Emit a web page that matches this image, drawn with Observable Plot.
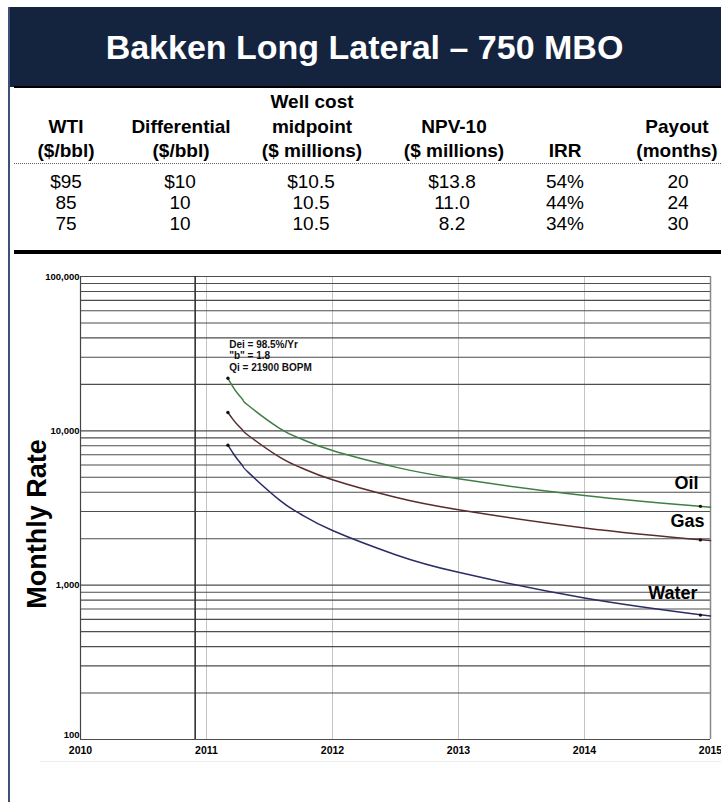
<!DOCTYPE html>
<html><head><meta charset="utf-8">
<script src="https://cdn.jsdelivr.net/npm/d3@7"></script>
<script src="https://cdn.jsdelivr.net/npm/@observablehq/plot@0.6"></script>
<style>
html,body{margin:0;padding:0;background:#fff;}
body{width:721px;height:802px;position:relative;overflow:hidden;font-family:"Liberation Sans",Arial,sans-serif;color:#000;}
#bar{position:absolute;left:8px;top:7px;width:713px;height:80px;background:#14243f;}
#title{position:absolute;left:8px;width:713px;top:7px;height:80px;line-height:80px;text-align:center;color:#fff;font-weight:bold;font-size:34px;}
#lborder{position:absolute;left:8px;top:7px;width:2px;height:795px;background:#3d5078;}
#rule1{position:absolute;left:14px;top:86px;width:707px;height:2px;background:#000;}
#dots{position:absolute;left:14px;top:163px;width:707px;height:0;border-top:1px dotted #666;}
#rule2{position:absolute;left:14px;top:250px;width:707px;height:4px;background:#000;}
#sep{position:absolute;left:40px;top:761px;width:681px;height:1px;background:#ececec;}
.cell{position:absolute;transform:translate(-50%,-50%);white-space:nowrap;font-size:19px;line-height:1;}
.hdr{font-weight:bold;}
#chart{position:absolute;left:0;top:258px;}
</style></head>
<body>
<div id="bar"></div>
<div id="title">Bakken Long Lateral – 750 MBO</div>
<div id="lborder"></div>
<div id="rule1"></div>
<div id="dots"></div>
<div id="rule2"></div>
<div id="sep"></div>
<div id="table"></div>
<div id="chart"></div>
<script>
// ---- table data ----
const headLine1 = ["", "", "Well cost", "", "", ""];
const headLine2 = ["WTI", "Differential", "midpoint", "NPV-10", "", "Payout"];
const headLine3 = ["($/bbl)", "($/bbl)", "($ millions)", "($ millions)", "IRR", "(months)"];
const wti = ["$95", "85", "75"];
const differential = ["$10", "10", "10"];
const wellCost = ["$10.5", "10.5", "10.5"];
const npv10 = ["$13.8", "11.0", "8.2"];
const irr = ["54%", "44%", "34%"];
const payout = ["20", "24", "30"];

// ---- chart data (monthly rate) ----
const years = [2011.17, 2011.21, 2011.25, 2011.29, 2011.33, 2011.58, 2011.75, 2012.0, 2012.5, 2013.0, 2014.0, 2015.0];
const oil   = [21900, 19270, 17330, 15830, 14640, 10380, 8880, 7450, 5820, 4890, 3810, 3200];
const gas   = [13140, 11870, 10860, 10040, 9360, 6750, 5770, 4820, 3710, 3080, 2350, 1945];
const water = [8070, 7180, 6470, 5885, 5400, 3560, 2880, 2260, 1576, 1211, 826, 631];
const dotYears = [2011.17, 2014.92];
const oilDots = [21900, 3240];
const gasDots = [13140, 1965];
const waterDots = [8070, 640];
const seriesNames = ["Oil", "Gas", "Water"];
const seriesColors = ["#3f7f46", "#5a2c2c", "#2c2c66"];
const labelYears = [2014.905, 2014.952, 2014.897];
const labelValues = [4550, 2595, 885];
const xTicks = [2010, 2011, 2012, 2013, 2014, 2015];
const yTicks = [1000, 10000, 100000];
const yBottomTick = [100];
const startMarkerYear = 2010.91;
const annotation = ["Dei = 98.5%/Yr", "\"b\" = 1.8", "Qi = 21900 BOPM"];
const annotationYear = 2011.18;
const annotationValue = 39100;

// ---- build table ----
const colX = [66, 181, 312, 454, 565, 677];
const dataColX = [66, 180, 311, 452, 565, 678];
const tbl = document.getElementById("table");
function cell(txt, x, y, bold) {
  if (!txt) return;
  const d = document.createElement("div");
  d.className = "cell" + (bold ? " hdr" : "");
  d.style.left = x + "px"; d.style.top = y + "px";
  d.textContent = txt; tbl.appendChild(d);
}
headLine1.forEach((t, i) => cell(t, colX[i], 101, true));
headLine2.forEach((t, i) => cell(t, colX[i], 126, true));
headLine3.forEach((t, i) => cell(t, colX[i], 150, true));
const cols = [wti, differential, wellCost, npv10, irr, payout];
const rowY = [181, 202, 223];
cols.forEach((c, i) => c.forEach((t, j) => cell(t, dataColX[i], rowY[j], false)));

// ---- chart ----
const rows = [];
[oil, gas, water].forEach((s, k) => s.forEach((v, i) => rows.push({series: seriesNames[k], year: years[i], value: v})));
const dots = [];
[oilDots, gasDots, waterDots].forEach((s, k) => s.forEach((v, i) => dots.push({series: seriesNames[k], year: dotYears[i], value: v})));
const labels = seriesNames.map((n, i) => ({name: n, year: labelYears[i], value: labelValues[i]}));
const gridValues = d3.scaleLog().domain([100, 100000]).ticks();
const font = "'Liberation Sans', Arial, sans-serif";

const chart = Plot.plot({
  width: 721,
  height: 512,
  marginLeft: 80,
  marginRight: 11,
  marginTop: 18,
  marginBottom: 31,
  style: {fontFamily: font, background: "transparent", color: "#000"},
  x: {domain: [2010, 2015], label: null},
  y: {type: "log", domain: [100, 100000], label: null},
  color: {domain: seriesNames, range: seriesColors},
  marks: [
    Plot.gridX([2011, 2012, 2013, 2014], {stroke: "#c4c4c4", strokeOpacity: 1}),
    Plot.ruleY(gridValues, {stroke: "#4d4d4d", strokeWidth: 1.1}),
    Plot.ruleX([2010], {stroke: "#444", strokeWidth: 1.2}),
    Plot.ruleX([2015], {stroke: "#888", strokeWidth: 1.5}),
    Plot.ruleX([startMarkerYear], {stroke: "#333", strokeWidth: 1.6}),
    Plot.axisX({ticks: xTicks, tickFormat: d => String(d), tickSize: 0, tickPadding: 7, fontSize: 10.5, fontWeight: "bold", label: null}),
    Plot.axisY({ticks: yTicks, tickFormat: d3.format(","), tickSize: 0, tickPadding: 1, fontSize: 9.5, fontWeight: "bold", label: null}),
    Plot.axisY({ticks: yBottomTick, tickFormat: d3.format(","), tickSize: 0, tickPadding: 1, dy: -5, fontSize: 9.5, fontWeight: "bold", label: null}),
    Plot.line(rows, {x: "year", y: "value", z: "series", stroke: "series", strokeWidth: 1.5, curve: "natural"}),
    Plot.dot(dots, {x: "year", y: "value", r: 1.7, fill: "#111", stroke: null}),
    Plot.text(labels, {x: "year", y: "value", text: "name", textAnchor: "end", fontSize: 18, fontWeight: "bold", fill: "#000"}),
    Plot.text([annotation.join("\n")], {x: annotationYear, y: annotationValue, textAnchor: "start", lineAnchor: "top", lineHeight: 1.15, fontSize: 10, fontWeight: "bold", fill: "#111"}),
    Plot.text(["Monthly Rate"], {frameAnchor: "left", dx: -43, dy: 16, rotate: -90, textAnchor: "middle", fontSize: 27, fontWeight: "bold", fill: "#000"})
  ]
});
document.getElementById("chart").appendChild(chart);
</script>
</body></html>
